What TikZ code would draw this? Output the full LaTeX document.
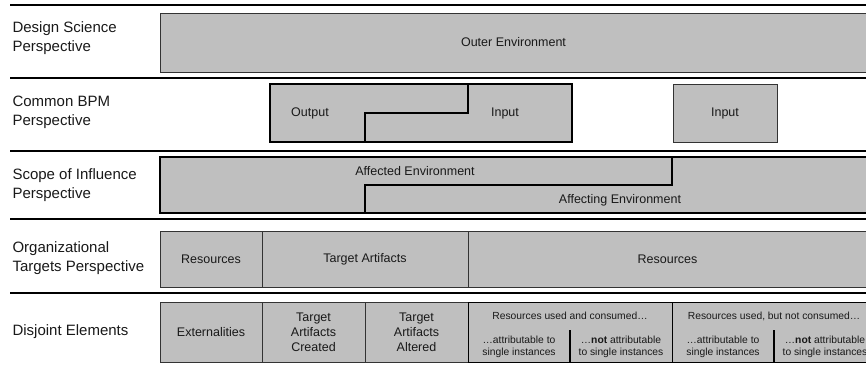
\documentclass[tikz,border=0pt]{standalone}
\usepackage{fontspec}
\setmainfont{Liberation Sans}
\begin{document}
\begin{tikzpicture}[x=1pt, y=-1pt,
  boxStyle/.style={draw=black!80, fill=black!25, line width=0.9pt},
  rowLabel/.style={anchor=west, align=left, text=black!90, font=\fontsize{15}{19}\selectfont},
  boxText/.style={align=center, text=black!90, font=\fontsize{12.5}{15}\selectfont},
  smallText/.style={align=center, text=black!90, font=\fontsize{10.3}{12.5}\selectfont},
  thickRule/.style={line width=2.5pt},
  thinRule/.style={line width=1.2pt}
]
\useasboundingbox (0,0) rectangle (866,364);
\clip (0,0) rectangle (866,364);

% row separators
\draw [thickRule] (10,5)   -- (866,5);
\draw [thinRule]  (10,78)  -- (866,78);
\draw [thickRule] (10,151) -- (866,151);
\draw [thinRule]  (10,219) -- (866,219);
\draw [thickRule] (10,293) -- (866,293);

% row labels
\node (lblDesign) [rowLabel] at (9,38)  {Design Science\\Perspective};
\node (lblBPM)    [rowLabel] at (9,112) {Common BPM\\Perspective};
\node (lblScope)  [rowLabel] at (9,185) {Scope of Influence\\Perspective};
\node (lblOrg)    [rowLabel] at (9,258) {Organizational\\Targets Perspective};
\node (lblDisj)   [rowLabel] at (9,332) {Disjoint Elements};

% design science
\draw [boxStyle] (160,13) rectangle (867,72) node (outerEnv) [midway, boxText] {Outer Environment};

% common BPM
\draw [boxStyle, draw=black, line width=1.3pt] (270,84) rectangle (572,142);
\draw [line width=1.3pt] (468,84) -- (468,113) -- (365,113) -- (365,142);
\node (bpmOutput) [boxText] at (310,113) {Output};
\node (bpmInput)  [boxText] at (505,113) {Input};
\draw [boxStyle] (673,84) rectangle (777,142) node (bpmInput2) [midway, boxText] {Input};

% scope of influence
\draw [boxStyle, draw=black, line width=1.6pt] (160,157) rectangle (867,213);
\draw [line width=1.2pt] (672,157) -- (672,185) -- (365,185) -- (365,213);
\node (affected)  [boxText] at (415,171) {Affected Environment};
\node (affecting) [boxText] at (620,200) {Affecting Environment};

% organizational targets
\draw [boxStyle] (160,231) rectangle (262,287) node (orgRes1) [midway, boxText] {Resources};
\draw [boxStyle] (262,231) rectangle (468,287) node (orgTarget) [midway, boxText] {Target Artifacts};
\draw [boxStyle] (468,231) rectangle (867,287) node (orgRes2) [midway, boxText] {Resources};

% disjoint elements
\draw [boxStyle] (160,302) rectangle (262,362) node (extern) [midway, boxText] {Externalities};
\draw [boxStyle] (262,302) rectangle (365,362) node (created) [midway, boxText] {Target\\Artifacts\\Created};
\draw [boxStyle] (365,302) rectangle (468,362) node (altered) [midway, boxText] {Target\\Artifacts\\Altered};
\draw [boxStyle, draw=black] (468,302) rectangle (672,362);
\draw [boxStyle, draw=black] (672,302) rectangle (867,362);
\draw [line width=1.3pt] (570,330) -- (570,362);
\draw [line width=1.3pt] (774,330) -- (774,362);
\node (consumed)    [smallText] at (570,316) {Resources used and consumed…};
\node (consAttr)    [smallText] at (519,347) {…attributable to\\single instances};
\node (consNotAttr) [smallText] at (621,347) {…\textbf{not} attributable\\to single instances};
\node (notConsumed) [smallText] at (774,316) {Resources used, but not consumed…};
\node (usedAttr)    [smallText] at (723,347) {…attributable to\\single instances};
\node (usedNotAttr) [smallText] at (825,347) {…\textbf{not} attributable\\to single instances};
\end{tikzpicture}
\end{document}
